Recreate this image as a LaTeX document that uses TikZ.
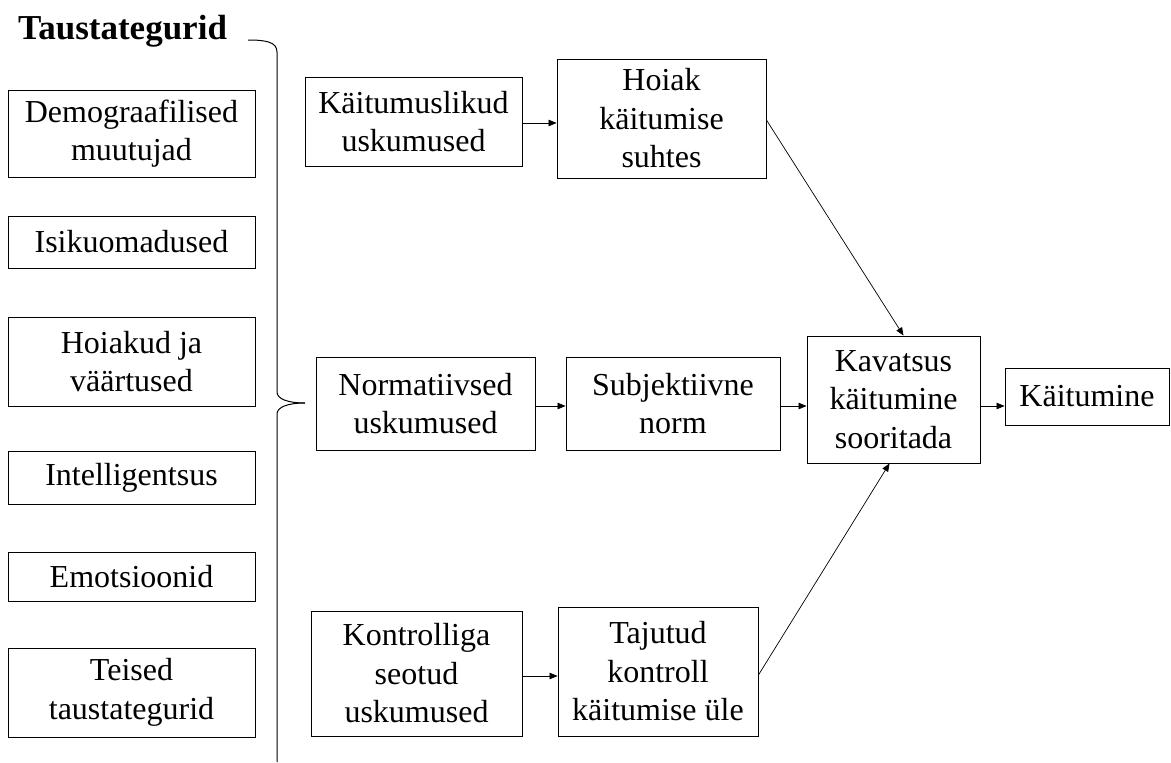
\documentclass[tikz,border=0pt]{standalone}
\usepackage{fontspec}
\setmainfont{Liberation Serif}
\usetikzlibrary{arrows.meta}
\begin{document}
\begin{tikzpicture}[x=1pt,y=-1pt,
  box/.style={draw, line width=0.9pt, align=center, inner sep=0pt,
    font=\fontsize{32}{38.5}\selectfont},
  arr/.style={line width=0.7pt, -{Triangle[length=8pt,width=6.5pt]}},
  bracket/.style={line width=1pt}]
\useasboundingbox (0,0) rectangle (1171,763);
% title
\node[anchor=base west, inner sep=0pt, font=\fontsize{35}{42}\selectfont\bfseries] (title) at (18,39) {Taustategurid};
% left column
\node[box, minimum width=247pt, minimum height=87pt] (demo) at (131.5,133.5) {Demograafilised\\muutujad};
\node[box, minimum width=247pt, minimum height=52pt] (isiku) at (131.5,242) {Isikuomadused};
\node[box, minimum width=247pt, minimum height=89pt] (hoiakud) at (131.5,361.5) {Hoiakud ja\\väärtused};
\node[box, minimum width=247pt, minimum height=53pt] (intell) at (131.5,477.5) {Intelligentsus};
\node[box, minimum width=247pt, minimum height=49pt] (emots) at (131.5,576.5) {Emotsioonid};
\node[box, minimum width=247pt, minimum height=89pt] (teised) at (131.5,692.5) {Teised\\taustategurid};
% brace
\coordinate (btop) at (248,40);
\coordinate (btip) at (305,403);
\coordinate (bbot) at (277,762);
\draw[bracket] (btop) .. controls (266,40) and (277,42) .. (277,52) -- (277,392)
  .. controls (277,399) and (288,403) .. (btip);
\draw[bracket] (bbot) -- (277,414) .. controls (277,407) and (288,403) .. (btip);
% middle/right
\node[box, minimum width=217pt, minimum height=89pt] (kb) at (413.5,121.5) {Käitumuslikud\\uskumused};
\node[box, minimum width=209pt, minimum height=119pt] (hoiak) at (661.5,118.5) {Hoiak\\käitumise\\suhtes};
\node[box, minimum width=219pt, minimum height=93pt] (norm) at (425.5,403.5) {Normatiivsed\\uskumused};
\node[box, minimum width=214pt, minimum height=93pt] (subj) at (673,403.5) {Subjektiivne\\norm};
\node[box, minimum width=173pt, minimum height=127pt] (kav) at (893.5,399.5) {Kavatsus\\käitumine\\sooritada};
\node[box, minimum width=164pt, minimum height=57pt] (kait) at (1087,396.5) {Käitumine};
\node[box, minimum width=211pt, minimum height=125pt] (kontr) at (416.5,673.5) {Kontrolliga\\seotud\\uskumused};
\node[box, minimum width=200pt, minimum height=129pt] (taj) at (658,671.5) {Tajutud\\kontroll\\käitumise üle};
% arrows
\draw[arr] ([yshift=-1.5pt]kb.east) -- ([yshift=-1.5pt]kb.east -| hoiak.west);
\draw[arr] ([yshift=-2.5pt]norm.east) -- ([yshift=-2.5pt]norm.east -| subj.west);
\draw[arr] ([yshift=-2.5pt]subj.east) -- ([yshift=-2.5pt]subj.east -| kav.west);
\draw[arr] ([yshift=-6.5pt]kav.east) -- ([yshift=-6.5pt]kav.east -| kait.west);
\draw[arr] ([yshift=-2.5pt]kontr.east) -- ([yshift=-2.5pt]kontr.east -| taj.west);
\draw[arr] ([yshift=-1.5pt]hoiak.east) -- ([xshift=10pt]kav.north);
\draw[arr] ([yshift=-3.5pt]taj.east) -- ([xshift=-4pt]kav.south);
\end{tikzpicture}
\end{document}
